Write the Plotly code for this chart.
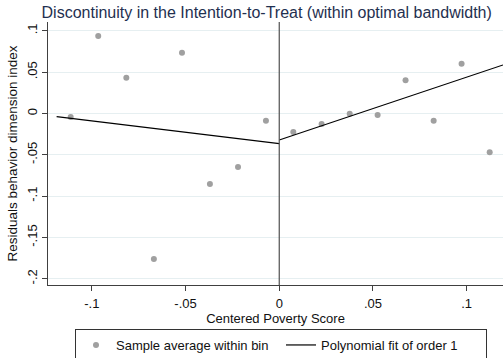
import plotly.graph_objects as go

# Binned sample averages
bin_x = [-0.1113, -0.0966, -0.0816, -0.0669, -0.0519, -0.0370, -0.0220, -0.0071,
         0.0075, 0.0226, 0.0376, 0.0525, 0.0674, 0.0824, 0.0973, 0.1123]
bin_y = [-0.0042, 0.0937, 0.0433, -0.1760, 0.0736, -0.0853, -0.0647, -0.0087,
         -0.0224, -0.0127, -0.0002, -0.0018, 0.0401, -0.0087, 0.0602, -0.0470]

# Polynomial fit (order 1) endpoints on each side of the cutoff
fit_left_x = [-0.1188, 0.0]
fit_left_y = [-0.0039, -0.0365]
fit_right_x = [0.0, 0.1194]
fit_right_y = [-0.0320, 0.0587]

xtick_vals = [-0.1, -0.05, 0, 0.05, 0.1]
xtick_text = ["-.1", "-.05", "0", ".05", ".1"]
ytick_vals = [0.1, 0.05, 0, -0.05, -0.1, -0.15, -0.2]
ytick_text = [".1", ".05", "0", "-.05", "-.1", "-.15", "-.2"]

FONT = "Liberation Sans, Arial, sans-serif"

fig = go.Figure()
fig.add_trace(go.Scatter(
    x=bin_x, y=bin_y, mode="markers", name="Sample average within bin",
    marker=dict(color="#a0a0a0", size=6, line=dict(width=0)),
))
fig.add_trace(go.Scatter(
    x=fit_left_x, y=fit_left_y, mode="lines", name="Polynomial fit of order 1",
    line=dict(color="black", width=1.2), legendgroup="fit",
))
fig.add_trace(go.Scatter(
    x=fit_right_x, y=fit_right_y, mode="lines", name="Polynomial fit of order 1",
    line=dict(color="black", width=1.2), legendgroup="fit", showlegend=False,
))

fig.add_shape(type="line", xref="x", yref="paper", x0=0, x1=0, y0=0, y1=1,
              line=dict(color="#505050", width=1.2))

fig.update_layout(
    width=503, height=358,
    margin=dict(l=48, r=0, t=22, b=73, autoexpand=False),
    paper_bgcolor="white", plot_bgcolor="white",
    font=dict(family=FONT, size=13, color="#111"),
    title=dict(text="Discontinuity in the Intention-to-Treat (within optimal bandwidth)",
               x=266.7 / 503, xanchor="center", y=1 - 12 / 358, yanchor="middle",
               font=dict(size=16, color="#1f3050", family=FONT)),
    showlegend=True,
    legend=dict(orientation="h", x=(75 - 48) / 455, xanchor="left",
                y=(285 - 329) / 263, yanchor="top",
                bordercolor="#333", borderwidth=1, bgcolor="white",
                font=dict(size=13, family=FONT, color="#111"),
                entrywidth=160, entrywidthmode="pixels",
                traceorder="normal"),
)

fig.update_xaxes(
    range=[-0.1234, 0.1194], tickvals=xtick_vals, ticktext=xtick_text,
    showgrid=False, zeroline=False, showline=True, linecolor="#404040", linewidth=1,
    ticks="outside", ticklen=5, tickcolor="#404040", ticklabelstandoff=1,
    title=dict(text="Centered Poverty Score", font=dict(size=13), standoff=0),
    tickfont=dict(size=13),
)
fig.update_yaxes(
    range=[-0.2075, 0.1107], tickvals=ytick_vals, ticktext=ytick_text,
    showgrid=True, gridcolor="#e6eff1", gridwidth=1,
    zeroline=False, showline=True, linecolor="#404040", linewidth=1,
    ticks="outside", ticklen=5, tickcolor="#404040", tickangle=-90,
    title=dict(text="Residuals behavior dimension index", font=dict(size=13.5), standoff=4),
    tickfont=dict(size=13),
)

fig.write_html("out.html")
